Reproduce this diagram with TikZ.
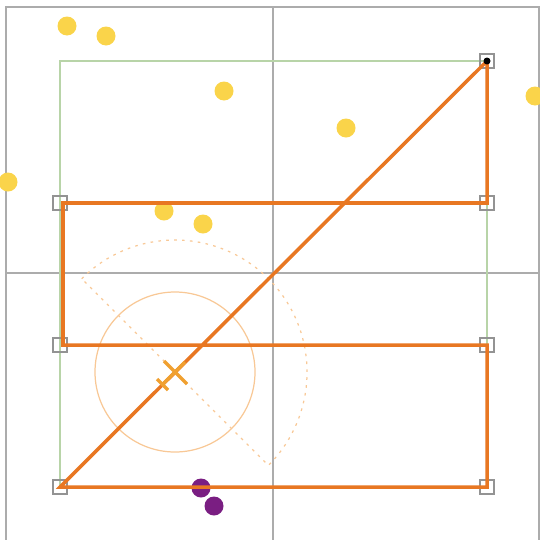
\documentclass[tikz,border=0pt]{standalone}
\begin{document}
\begin{tikzpicture}[x=0.02cm,y=0.02cm,
  gridline/.style={draw=gray!65,line width=0.6pt},
  greenrect/.style={draw={rgb,255:red,184;green,212;blue,168},line width=0.8pt},
  orangeline/.style={draw={rgb,255:red,232;green,119;blue,34},line width=2pt},
  handle/.style={draw=gray!85,line width=0.8pt,minimum size=14*0.02cm,inner sep=0pt,rectangle},
  ydot/.style={circle,fill={rgb,255:red,250;green,212;blue,74},minimum size=19*0.02cm,inner sep=0pt},
  pdot/.style={circle,fill={rgb,255:red,122;green,30;blue,130},minimum size=19*0.02cm,inner sep=0pt},
  softcircle/.style={draw={rgb,255:red,248;green,200;blue,150},line width=0.7pt},
  dottedarc/.style={draw={rgb,255:red,248;green,200;blue,150},line width=0.7pt,dash pattern=on 1.5pt off 3pt},
  crossmark/.style={draw={rgb,255:red,240;green,160;blue,48},line width=2pt}]
\useasboundingbox (0,0) rectangle (540,539);
% grid
\draw[gridline] (6,-5) -- (6,532) -- (545,532);
\draw[gridline] (273,-5) -- (273,532);
\draw[gridline] (539,-5) -- (539,532);
\draw[gridline] (6,266) -- (545,266);
% green rectangle
\draw[greenrect] (60,52) rectangle (487,478);
% circle and dashed sector
\draw[softcircle] (175,167) circle (80);
\draw[dottedarc] (81.7,260.3) arc[start angle=135,end angle=-45,radius=132] -- cycle;
% dots
\node[ydot] (y1) at (67,513) {};
\node[ydot] (y2) at (106,503) {};
\node[ydot] (y3) at (224,448) {};
\node[ydot] (y4) at (346,411) {};
\node[ydot] (y5) at (535,443) {};
\node[ydot] (y6) at (8,357) {};
\node[ydot] (y7) at (164,328) {};
\node[ydot] (y8) at (203,315) {};
\node[pdot] (p1) at (201,51) {};
\node[pdot] (p2) at (214,33) {};
% handles
\node[handle] (h1) at (487,478) {};
\node[handle] (h2) at (487,336) {};
\node[handle] (h3) at (60,336) {};
\node[handle] (h4) at (60,194) {};
\node[handle] (h5) at (487,194) {};
\node[handle] (h6) at (487,52) {};
\node[handle] (h7) at (60,52) {};
% orange path
\draw[orangeline,line join=miter] (h1.center) -- (h2.center) -- (63,336) -- (63,194) -- (h5.center) -- (h6.center) -- (h7.center) -- (h1.center);
\fill (h1.center) circle (3.5);
% cross mark
\coordinate (cc) at (175,167);
\draw[crossmark] (164,178) -- (187,155);
\draw[crossmark] (185,177) -- (163,155);
\draw[crossmark] (157,160) -- (168,149);
\end{tikzpicture}
\end{document}
